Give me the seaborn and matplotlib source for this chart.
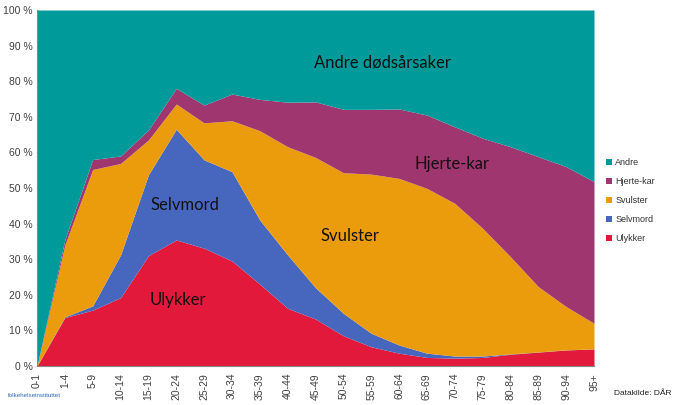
import numpy as np
import matplotlib
matplotlib.use("Agg")
import matplotlib.pyplot as plt
import seaborn as sns

# Age groups
ages = ["0-1", "1-4", "5-9", "10-14", "15-19", "20-24", "25-29", "30-34", "35-39",
        "40-44", "45-49", "50-54", "55-59", "60-64", "65-69", "70-74", "75-79",
        "80-84", "85-89", "90-94", "95+"]

# Share of deaths (%) per cause
ulykker = [0, 13.6, 15.7, 19.2, 31.0, 35.4, 33.1, 29.5, 23.0, 16.2, 13.2, 8.5,
           5.4, 3.6, 2.4, 2.2, 2.4, 3.3, 3.9, 4.5, 4.8]
selvmord = [0, 0.2, 1.2, 12.0, 22.7, 31.1, 24.8, 25.1, 18.0, 15.0, 8.8, 6.3,
            3.8, 2.3, 1.2, 0.6, 0.4, 0.1, 0.05, 0.03, 0.02]
svulster = [0, 20.2, 38.3, 25.7, 9.8, 7.1, 10.4, 14.3, 25.1, 30.4, 36.6, 39.5,
            44.7, 46.8, 46.3, 42.9, 35.9, 27.3, 18.35, 12.17, 7.18]
hjerte_kar = [0, 1.5, 2.8, 2.1, 2.8, 4.4, 5.0, 7.5, 8.8, 12.5, 15.6, 17.8,
              18.2, 19.5, 20.6, 21.5, 25.3, 30.9, 36.5, 39.3, 39.8]
andre = [100 - (a + b + c + d) for a, b, c, d in zip(ulykker, selvmord, svulster, hjerte_kar)]

labels = ["Ulykker", "Selvmord", "Svulster", "Hjerte-kar", "Andre"]
colors = ["#E2193A", "#4767BE", "#EA9C0D", "#A0366F", "#009A9A"]

sns.set_style("white")
plt.rcParams["font.family"] = ["Liberation Sans", "DejaVu Sans"]

fig = plt.figure(figsize=(6.75, 4.05), dpi=100)
ax = fig.add_axes([0.0548, 0.0963, 0.8252, 0.8790])

x = np.arange(len(ages))
polys = ax.stackplot(x, ulykker, selvmord, svulster, hjerte_kar, andre,
                     colors=colors, labels=labels, linewidth=0)

ax.set_xlim(0, len(ages) - 1)
ax.set_ylim(0, 100)
ax.set_yticks(np.arange(0, 101, 10))
ax.set_yticklabels([f"{v} %" for v in range(0, 101, 10)], fontsize=7.5, color="#404040")
ax.set_xticks(x)
ax.set_xticklabels(ages, rotation=90, fontsize=7.5, color="#404040")
ax.tick_params(axis="x", length=3, color="#888888", pad=2)
ax.tick_params(axis="y", length=0, pad=3)
for side in ["left", "bottom"]:
    ax.spines[side].set_color("#888888")
    ax.spines[side].set_linewidth(0.8)
for side in ["top", "right"]:
    ax.spines[side].set_visible(False)

# Labels inside the areas
lab_font = dict(family=["Lato", "DejaVu Sans"], fontsize=12, color="#111111",
                ha="center", va="center")
ax.text(12.4, 85.2, "Andre dødsårsaker", **lab_font)
ax.text(14.9, 56.7, "Hjerte-kar", **lab_font)
ax.text(11.25, 36.5, "Svulster", **lab_font)
ax.text(5.3, 45.2, "Selvmord", **lab_font)
ax.text(5.05, 18.5, "Ulykker", **lab_font)

# Legend (reverse order, top = Andre)
handles, leg_labels = ax.get_legend_handles_labels()
leg = fig.legend(handles[::-1], leg_labels[::-1], loc="center left",
                 bbox_to_anchor=(0.885, 0.505), frameon=False, fontsize=6.5,
                 handlelength=0.7, handleheight=0.7, handletextpad=0.4,
                 labelspacing=1.1)
for t in leg.get_texts():
    t.set_color("#333333")

fig.text(0.995, 0.02, "Datakilde: DÅR", ha="right", va="bottom", fontsize=6,
         color="#222222")
fig.text(0.012, 0.018, "folkehelseinstituttet", ha="left", va="bottom",
         fontsize=4.5, color="#2E6DB4")

fig.savefig("out.png", dpi=100)
